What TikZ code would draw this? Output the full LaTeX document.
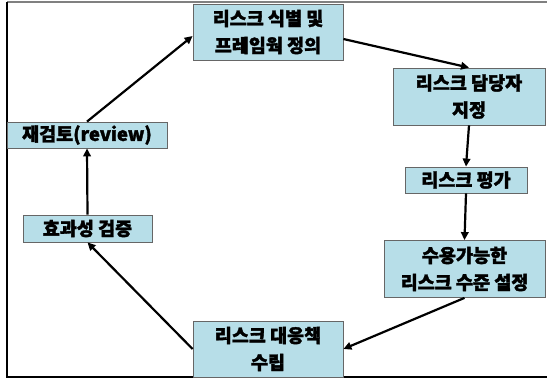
\documentclass[tikz,border=0pt]{standalone}
\usepackage{fontspec}
\newfontfamily\kr{Noto Sans CJK KR}[BoldFeatures={FakeBold=1.8}]
\usetikzlibrary{arrows.meta}
\definecolor{boxfill}{HTML}{B7DEE8}
\begin{document}
\begin{tikzpicture}[x=1pt,y=-1pt,
  box/.style={draw=gray!80!black, line width=0.8pt, fill=boxfill, inner sep=0pt,
    font=\kr\bfseries\fontsize{18.5}{27}\selectfont, align=center},
  arr/.style={line width=2.2pt, -{Triangle[length=8pt,width=7.5pt]}}]
\useasboundingbox (0,0) rectangle (547,382);
\draw[gray, line width=1.6pt] (7,2) -- (547,2);
\draw[black, line width=1.3pt] (7,2) -- (7,377) -- (547,377);
\node[box, minimum width=150pt, minimum height=56pt] (b1) at (268,32) {리스크 식별 및\\프레임웍 정의};
\node[box, minimum width=152pt, minimum height=57pt] (b2) at (469,96.5) {리스크 담당자\\지정};
\node[box, minimum width=122pt, minimum height=26pt] (b3) at (466,180) {리스크 평가};
\node[box, minimum width=161pt, minimum height=57pt] (b4) at (464.5,269) {수용가능한\\리스크 수준 설정};
\node[box, minimum width=150pt, minimum height=56pt] (b5) at (268,349) {리스크 대응책\\수립};
\node[box, minimum width=129pt, minimum height=27pt] (b6) at (87.5,228.5) {효과성 검증};
\node[box, minimum width=160pt, minimum height=26pt] (b7) at (87,135) {재검토(review)};
\draw[arr] (b7.north) -- ([yshift=-4pt]b1.west);
\draw[arr] ([yshift=-7pt]b1.east) -- (b2.north);
\draw[arr] (b2.south) -- (b3.north);
\draw[arr] (b3.south) -- (b4.north);
\draw[arr] (b4.south) -- (b5.east);
\draw[arr] (b5.west) -- (b6.south);
\draw[arr] (b6.north) -- (b7.south);
\end{tikzpicture}
\end{document}
